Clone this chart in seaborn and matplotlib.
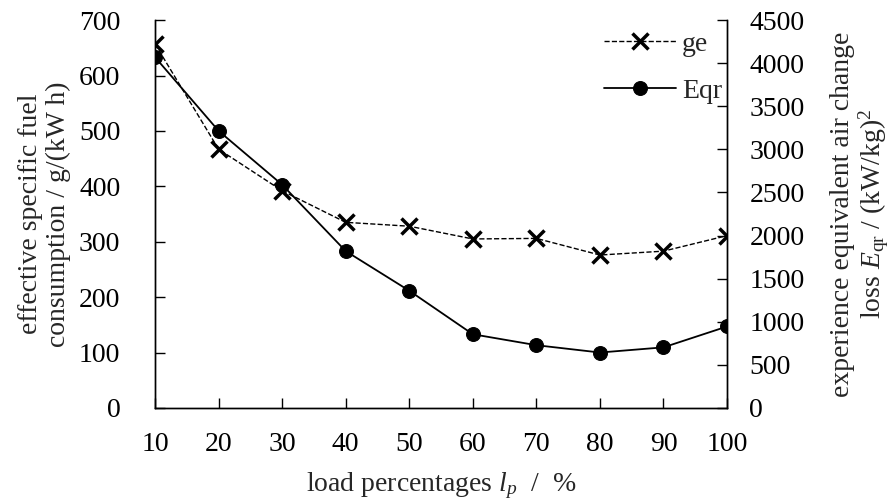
import matplotlib
matplotlib.use("Agg")
import matplotlib.pyplot as plt
import seaborn as sns
import pandas as pd

load = [10, 20, 30, 40, 50, 60, 70, 80, 90, 100]
ge = [657, 467, 392, 335, 328, 305, 306, 276, 283, 311]
eqr = [4070, 3215, 2590, 1820, 1360, 855, 728, 643, 703, 945]

sns.set_theme(style="ticks")
plt.rcParams['font.family'] = ['Liberation Serif', 'DejaVu Serif']
plt.rcParams['mathtext.fontset'] = 'custom'
plt.rcParams['mathtext.rm'] = 'Liberation Serif'
plt.rcParams['mathtext.it'] = 'Liberation Serif:italic'

df = pd.DataFrame({"load": load, "ge": ge, "eqr": eqr})

fig = plt.figure(figsize=(8.91, 5.03), dpi=100)
ax = fig.add_axes([0.174, 0.189, 0.642, 0.771])
ax2 = ax.twinx()

sns.lineplot(data=df, x="load", y="ge", ax=ax, color="black", linestyle="--",
             linewidth=1.0, marker="x", markersize=11, markeredgewidth=2.5,
             markeredgecolor="black", label="ge", legend=False)
sns.lineplot(data=df, x="load", y="eqr", ax=ax2, color="black", linestyle="-",
             linewidth=1.3, marker="o", markersize=10, markeredgecolor="black",
             label="Eqr", legend=False)

ax.set_xlim(10, 100)
ax.set_ylim(0, 700)
ax2.set_ylim(0, 4500)
ax.set_xticks(load)
ax.set_yticks(range(0, 701, 100))
ax2.set_yticks(range(0, 4501, 500))

fs = 20
for a in (ax, ax2):
    a.tick_params(direction="in", length=7, width=1, labelsize=fs, colors="black")
    a.spines["top"].set_visible(False)
    for s in ("left", "right", "bottom"):
        a.spines[s].set_linewidth(1.0)
        a.spines[s].set_color("black")
ax.tick_params(axis="x", pad=17)
ax.tick_params(axis="y", pad=25)
ax2.tick_params(axis="y", pad=16)

ax.set_xlabel(r"load percentages $l_p$  /  %", fontsize=fs, labelpad=10)
ax.set_ylabel("effective specific fuel\nconsumption / g/(kW h)", fontsize=fs,
              labelpad=6, linespacing=1.15)
ax2.set_ylabel("experience equivalent air change\nloss $E_{\\mathrm{qr}}$ / (kW/kg)$^2$",
               fontsize=fs, labelpad=18, linespacing=1.1)

h1, l1 = ax.get_legend_handles_labels()
h2, l2 = ax2.get_legend_handles_labels()
leg = ax2.legend(h1 + h2, l1 + l2, loc="upper right", bbox_to_anchor=(1.035, 1.035),
                 frameon=False, fontsize=fs, handlelength=2.6, labelspacing=0.78,
                 handletextpad=0.2)

fig.savefig("out.png", dpi=100)
